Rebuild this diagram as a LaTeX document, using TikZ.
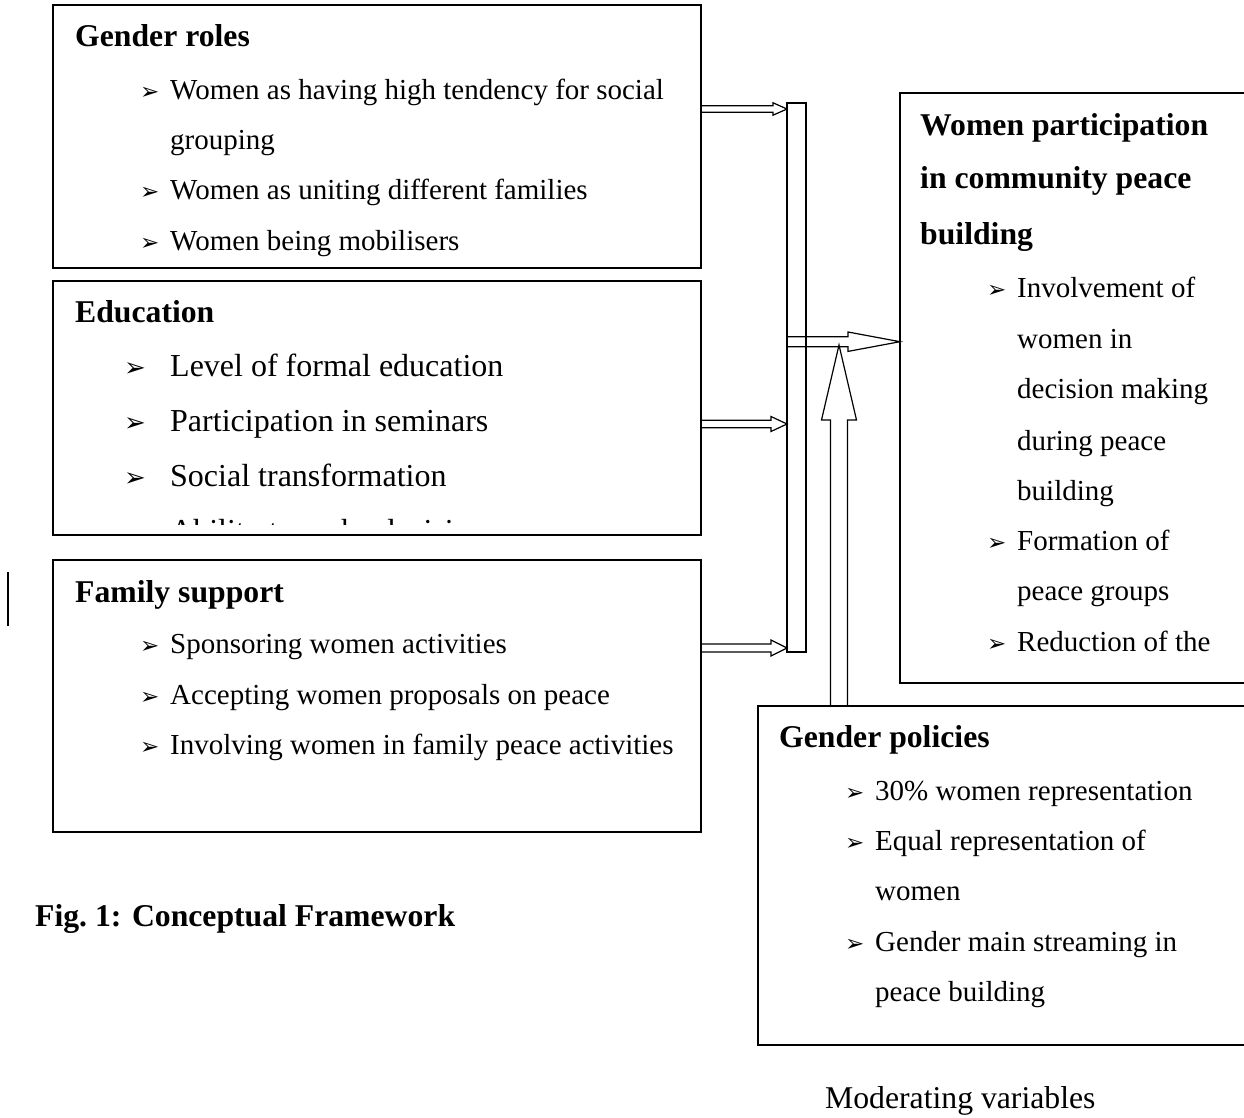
\documentclass[tikz,border=0pt]{standalone}
\usepackage{fontspec}
\setmainfont{Liberation Serif}
\newfontfamily\dingfont{DejaVu Sans}
\usetikzlibrary{calc}

% hollow block arrows: from, to, half shaft, half head, head length (pt)
\newcommand\hflow[5]{\draw[hollow] let \p1=(#1), \p2=(#2) in
  (\x1,\y1+#3pt)--(\x2-#5pt,\y1+#3pt)--(\x2-#5pt,\y1+#4pt)--(\x2,\y1)
  --(\x2-#5pt,\y1-#4pt)--(\x2-#5pt,\y1-#3pt)--(\x1,\y1-#3pt);}
\newcommand\vflow[5]{\draw[hollow] let \p1=(#1), \p2=(#2) in
  (\x1-#3pt,\y1)--(\x1-#3pt,\y2-#5pt)--(\x1-#4pt,\y2-#5pt)--(\x1,\y2)
  --(\x1+#4pt,\y2-#5pt)--(\x1+#3pt,\y2-#5pt)--(\x1+#3pt,\y1);}

\tikzset{
  frame/.style={draw,line width=1.6pt,rectangle,anchor=north west,inner sep=0pt,outer sep=0pt},
  head/.style={anchor=base west,inner sep=0pt,font=\bfseries\fontsize{31.7}{38}\selectfont},
  item/.style={anchor=base west,inner sep=0pt,font=\fontsize{29}{35}\selectfont},
  bigitem/.style={item,font=\fontsize{32}{38}\selectfont},
  bul/.style={anchor=base west,inner sep=0pt,font=\dingfont\bfseries\fontsize{23}{23}\selectfont},
  bigbul/.style={bul,font=\dingfont\bfseries\fontsize{26}{26}\selectfont},
  hollow/.style={line width=1.2pt,line join=miter},
}

\begin{document}
\begin{tikzpicture}[x=1pt,y=-1pt]
\path[use as bounding box] (0,0) rectangle (1244,1118);
\begin{scope}
\clip (0,0) rectangle (1244,1118);

% boxes
\node[frame,minimum width=648,minimum height=263] (roles) at (53,5) {};
\node[frame,minimum width=648,minimum height=254] (edu) at (53,281) {};
\node[frame,minimum width=648,minimum height=272] (family) at (53,560) {};
\node[frame,minimum width=380,minimum height=590] (women) at (900,93) {};
\node[frame,minimum width=520,minimum height=339] (policies) at (758,706) {};
\node[frame,line width=1.3pt,minimum width=19,minimum height=549] (bar) at (787,103) {};

% Gender roles
\node[head] (roles-h) at (75,47) {Gender roles};
\foreach \yy/\txt [count=\i] in {100/{Women as having high tendency for social},
    200/{Women as uniting different families},250/{Women being mobilisers}}{
  \node[bul] (roles-b\i) at (140,\yy) {➢};
  \node[item] (roles-\i) at (170,\yy) {\txt};
}
\node[item] (roles-1b) at (170,150) {grouping};

% Education
\node[head] (edu-h) at (75,322) {Education};
\foreach \yy/\txt [count=\i] in {376/{Level of formal education},
    431/{Participation in seminars},486/{Social transformation}}{
  \node[bigbul] (edu-b\i) at (124,\yy) {➢};
  \node[bigitem] (edu-\i) at (170,\yy) {\txt};
}
\begin{scope}
\clip (53,281) rectangle (701,524);
\node[bigbul] (edu-b4) at (124,541) {➢};
\node[bigitem] (edu-4) at (170,541) {Ability to make decisions};
\end{scope}

% Family support
\node[head] (family-h) at (75,602) {Family support};
\foreach \yy/\txt [count=\i] in {653/{Sponsoring women activities},
    704/{Accepting women proposals on peace},754/{Involving women in family peace activities}}{
  \node[bul] (family-b\i) at (140,\yy) {➢};
  \node[item] (family-\i) at (170,\yy) {\txt};
}

% Women participation
\node[head] (women-h1) at (920,136) {Women participation};
\node[head] (women-h2) at (920,189) {in community peace};
\node[head] (women-h3) at (920,244) {building};
\foreach \yy/\txt [count=\i] in {297/{Involvement of},348/{women in},398/{decision making},
    450/{during peace},500/{building},550/{Formation of},600/{peace groups},651/{Reduction of the}}{
  \node[item] (women-\i) at (1017,\yy) {\txt};
}
\foreach \yy [count=\i] in {297,550,651}{
  \node[bul] (women-b\i) at (987,\yy) {➢};
}

% Gender policies
\node[head] (policies-h) at (779,747) {Gender policies};
\foreach \yy/\txt [count=\i] in {800/{30\% women representation},850/{Equal representation of},
    900/{women},951/{Gender main streaming in},1001/{peace building}}{
  \node[item] (policies-\i) at (875,\yy) {\txt};
}
\foreach \yy [count=\i] in {800,850,951}{
  \node[bul] (policies-b\i) at (845,\yy) {➢};
}

% arrows
\hflow{roles.east |- 0,109}{bar.west |- 0,109}{3.3}{6.2}{14}
\hflow{edu.east |- 0,424}{bar.west |- 0,424}{3.7}{7.5}{16}
\hflow{family.east |- 0,648}{bar.west |- 0,648}{4}{8}{16}
\hflow{bar.west |- 0,341.7}{women.west |- 0,341.7}{5}{9.7}{52}
\coordinate (upfoot) at (839,0 |- policies.north);
\coordinate (uptip) at (839,345);
\vflow{upfoot}{uptip}{8.5}{17.5}{75}

\draw[line width=2pt] (8,572) -- (8,626);

\node[head] (caption) at (35,926) {Fig.\ 1: Conceptual Framework};
\node[head,font=\fontsize{31.7}{38}\selectfont] (moderating) at (825,1108) {Moderating variables};
\end{scope}
\end{tikzpicture}
\end{document}
